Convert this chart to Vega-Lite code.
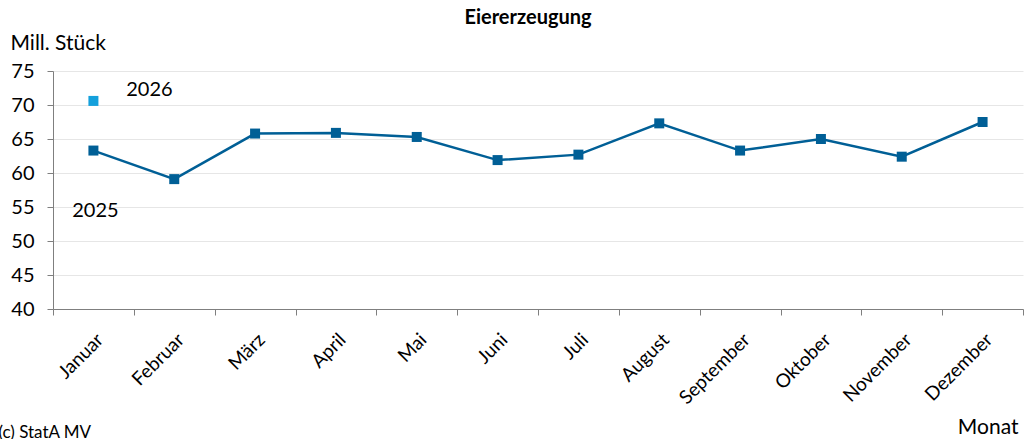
{
  "$schema": "https://vega.github.io/schema/vega-lite/v6.json",
  "width": 970,
  "height": 238,
  "autosize": "none",
  "padding": {"left": 53, "top": 71, "right": 1, "bottom": 130},
  "background": "white",
  "config": {
    "font": "Lato",
    "view": {"stroke": null}
  },
  "title": {
    "text": "Eiererzeugung",
    "fontSize": 20,
    "fontWeight": "bold",
    "font": "Lato",
    "color": "#000000",
    "anchor": "middle",
    "offset": 4,
    "dx": -10
  },
  "datasets": {
    "werte": [
      {"Monat": "Januar", "Jahr": "2025", "Wert": 63.3},
      {"Monat": "Februar", "Jahr": "2025", "Wert": 59.1},
      {"Monat": "März", "Jahr": "2025", "Wert": 65.8},
      {"Monat": "April", "Jahr": "2025", "Wert": 65.9},
      {"Monat": "Mai", "Jahr": "2025", "Wert": 65.3},
      {"Monat": "Juni", "Jahr": "2025", "Wert": 61.9},
      {"Monat": "Juli", "Jahr": "2025", "Wert": 62.7},
      {"Monat": "August", "Jahr": "2025", "Wert": 67.3},
      {"Monat": "September", "Jahr": "2025", "Wert": 63.3},
      {"Monat": "Oktober", "Jahr": "2025", "Wert": 65.0},
      {"Monat": "November", "Jahr": "2025", "Wert": 62.4},
      {"Monat": "Dezember", "Jahr": "2025", "Wert": 67.5},
      {"Monat": "Januar", "Jahr": "2026", "Wert": 70.6}
    ],
    "beschriftung": [
      {"Monat": "Januar", "Wert": 72.2, "label": "2026"},
      {"Monat": "Januar", "Wert": 54.4, "label": "2025"}
    ],
    "quelle": [
      {"Monat": "Januar", "Wert": 21.7, "label": "(c) StatA MV"}
    ]
  },
  "encoding": {
    "x": {
      "field": "Monat",
      "type": "nominal",
      "sort": ["Januar", "Februar", "März", "April", "Mai", "Juni", "Juli", "August", "September", "Oktober", "November", "Dezember"],
      "scale": {"paddingInner": 0, "paddingOuter": 0},
      "axis": {
        "title": "Monat",
        "titleAnchor": "end",
        "titleAlign": "right",
        "titleBaseline": "middle",
        "titleX": 965,
        "titleY": 118,
        "titleFontSize": 21,
        "titleFontWeight": "normal",
        "titleColor": "#000000",
        "labelAngle": -45,
        "labelFontSize": 19,
        "labelColor": "#000000",
        "labelPadding": 15,
        "tickBand": "extent",
        "tickSize": 6,
        "tickColor": "#7f7f7f",
        "domainColor": "#7f7f7f",
        "domainWidth": 1,
        "grid": false
      }
    },
    "y": {
      "field": "Wert",
      "type": "quantitative",
      "scale": {"domain": [40, 75], "nice": false, "zero": false},
      "axis": {
        "title": "Mill. Stück",
        "titleAngle": 0,
        "titleAnchor": "end",
        "titleAlign": "left",
        "titleBaseline": "alphabetic",
        "titleX": -43,
        "titleY": -22,
        "titleFontSize": 21,
        "titleFontWeight": "normal",
        "titleColor": "#000000",
        "values": [40, 45, 50, 55, 60, 65, 70, 75],
        "labelFontSize": 20,
        "labelColor": "#000000",
        "labelPadding": 13,
        "tickSize": 6,
        "tickColor": "#7f7f7f",
        "domainColor": "#7f7f7f",
        "grid": true,
        "gridColor": "#e6e6e6",
        "gridWidth": 1
      }
    }
  },
  "layer": [
    {
      "data": {"name": "werte"},
      "transform": [{"filter": "datum.Jahr === '2025'"}],
      "mark": {"type": "line", "color": "#005f96", "strokeWidth": 2.5}
    },
    {
      "data": {"name": "werte"},
      "mark": {"type": "point", "shape": "square", "filled": true, "opacity": 1, "size": 100},
      "encoding": {
        "color": {
          "field": "Jahr",
          "type": "nominal",
          "scale": {"domain": ["2025", "2026"], "range": ["#005f96", "#14a0dc"]},
          "legend": null
        }
      }
    },
    {
      "data": {"name": "beschriftung"},
      "transform": [{"filter": "datum.label === '2026'"}],
      "mark": {"type": "text", "fontSize": 20, "color": "#000000", "align": "center", "baseline": "middle", "dx": 56},
      "encoding": {"text": {"field": "label"}}
    },
    {
      "data": {"name": "beschriftung"},
      "transform": [{"filter": "datum.label === '2025'"}],
      "mark": {"type": "text", "fontSize": 20, "color": "#000000", "align": "center", "baseline": "middle", "dx": 2},
      "encoding": {"text": {"field": "label"}}
    },
    {
      "data": {"name": "quelle"},
      "mark": {"type": "text", "fontSize": 17, "color": "#000000", "align": "left", "baseline": "middle", "dx": -95, "clip": false},
      "encoding": {"text": {"field": "label"}}
    }
  ]
}
